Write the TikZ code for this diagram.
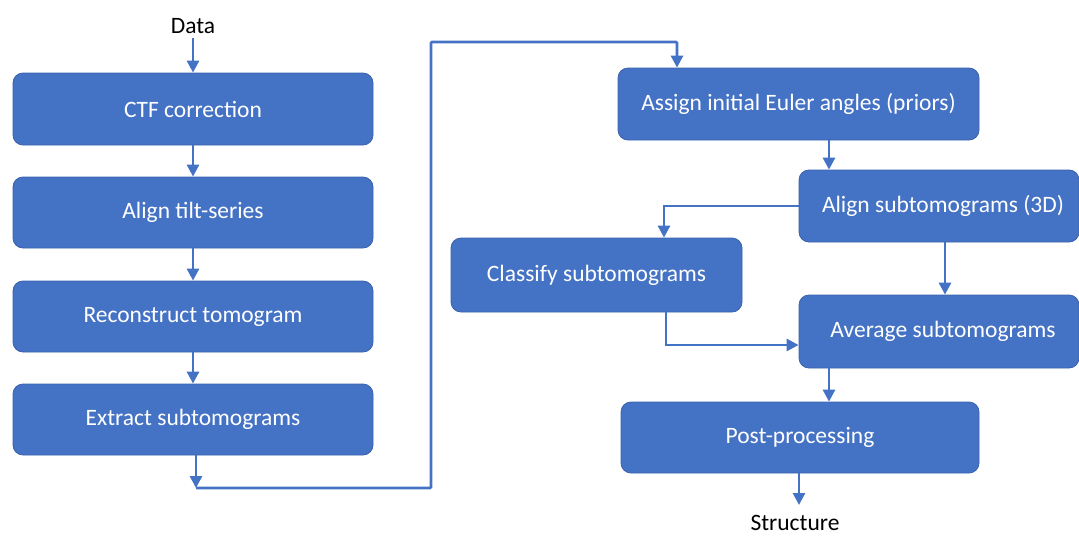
\documentclass[tikz,border=0pt]{standalone}
\usepackage{fontspec}
\setmainfont{Carlito}
\usepackage{xcolor}
\usetikzlibrary{arrows.meta}
\definecolor{stageblue}{HTML}{4472C4}
\definecolor{stageedge}{HTML}{3A62AC}

\begin{document}
\begin{tikzpicture}[x=1pt,y=-1pt,line width=2.8pt,draw=stageblue,
    >={Triangle[length=12pt,width=12pt]},font=\fontsize{23.5}{28}\selectfont]
\tikzstyle{stage}=[rectangle,rounded corners=10pt,fill=stageblue,draw=stageedge,
    line width=0.8pt,text=white,inner sep=0pt,minimum width=360pt,minimum height=72pt]
\tikzstyle{flow}=[->,stageblue,line width=2.8pt]
\useasboundingbox (0,0) rectangle (1079,536);

% left column
\node (D) at (193,26) {Data};
\node[stage] (CTF) at (193,109) {CTF correction};
\node[stage,minimum height=71pt] (TS) at (193,212.5) {Align tilt-series};
\node[stage,minimum height=71pt] (RT) at (193,316.5) {Reconstruct tomogram};
\node[stage,minimum height=71pt] (EX) at (193,419.5) {Extract subtomograms};

% right part
\node[stage,minimum width=361pt] (EU) at (798.5,104) {Assign initial Euler angles (priors)};
\node[stage,minimum width=280pt] (AS) at (939,206) {\hspace*{8pt}Align subtomograms (3D)};
\node[stage,minimum width=291pt,minimum height=74pt] (CL) at (596.5,275) {Classify subtomograms};
\node[stage,minimum width=280pt,minimum height=73pt] (AV) at (939,331.5) {\hspace*{8pt}Average subtomograms};
\node[stage,minimum width=358pt,minimum height=71pt] (PP) at (800,437.5) {Post-processing};
\node (S) at (795,523) {Structure};

\coordinate (E1) at (196,488);
\coordinate (E2) at (431,42);
\coordinate (E3) at (799,505);

\draw[flow] (D.south) -- (CTF.north);
\draw[flow] (CTF) -- (TS);
\draw[flow] (TS) -- (RT);
\draw[flow] (RT) -- (EX);
\draw[flow] ([xshift=3pt]EX.south) -- (E1);
\draw[flow,rounded corners=1pt] (E1) -| (E2) -| ([xshift=-121.5pt]EU.north);
\draw[flow] ([xshift=30.5pt]EU.south) -- ([xshift=-110pt]AS.north);
\draw[flow] (AS.west) -| ([xshift=67.5pt]CL.north);
\draw[flow] ([xshift=6pt]AS.south) -- ([xshift=6pt]AV.north);
\draw[flow] ([xshift=69.5pt]CL.south) |- ([yshift=-13.5pt]AV.west);
\draw[flow] ([xshift=-110pt]AV.south) -- ([xshift=29pt]PP.north);
\draw[flow] ([xshift=-1pt]PP.south) -- (E3);
\end{tikzpicture}
\end{document}
